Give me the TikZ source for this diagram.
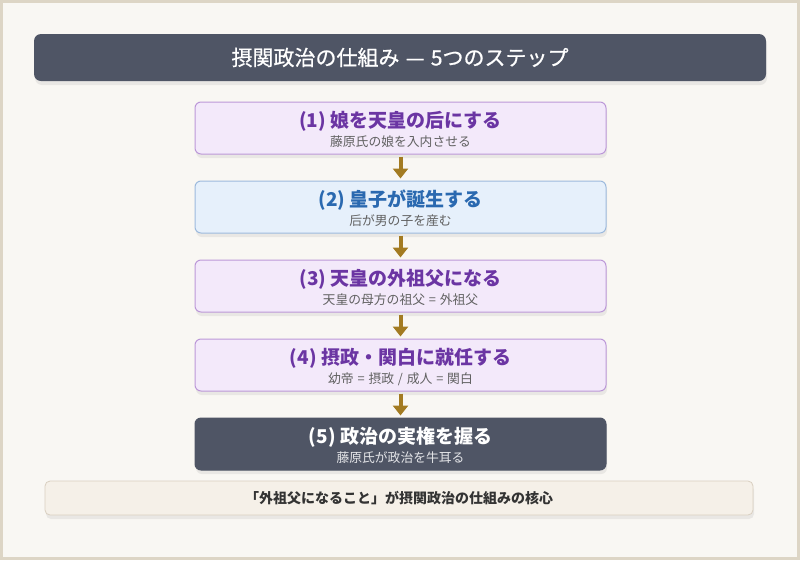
\documentclass[tikz,border=0pt]{standalone}
\usepackage{fontspec}
\setmainfont{Noto Sans CJK JP}
\newfontfamily\medfont[BoldFont={Noto Sans CJK JP},BoldFeatures={FakeBold=0.7}]{Noto Sans CJK JP}
\usepackage{tikz}
\usetikzlibrary{positioning,shadows,arrows.meta}

\definecolor{slate}{HTML}{4F5565}
\definecolor{paper}{HTML}{F9F7F3}
\definecolor{frame}{HTML}{DDD5C5}
\definecolor{lilac}{HTML}{F3E9FA}
\definecolor{lilacline}{HTML}{BC98D8}
\definecolor{lilactext}{HTML}{6B35A3}
\definecolor{skyfill}{HTML}{E6F0FB}
\definecolor{skyline}{HTML}{9DBADD}
\definecolor{skytext}{HTML}{2A69B0}
\definecolor{gold}{HTML}{A37B22}
\definecolor{cream}{HTML}{F5F0E8}
\definecolor{creamline}{HTML}{D9CFC0}
\definecolor{subgray}{HTML}{616161}

\newcommand{\eqsep}{\hspace{0.3em}=\hspace{0.3em}}

\tikzset{
	softshadow/.style={drop shadow={opacity=0.13,shadow xshift=1pt,shadow yshift=-4pt}},
	stepbox/.style={rounded corners=6pt,line width=1pt,minimum width=411pt,minimum height=52pt,softshadow},
	purplebox/.style={stepbox,fill=lilac,draw=lilacline},
	bluebox/.style={stepbox,fill=skyfill,draw=skyline},
	darkbox/.style={stepbox,fill=slate,draw=slate},
	headtext/.style={font=\bfseries\fontsize{19}{22}\selectfont},
	subtext/.style={font=\fontsize{12.8}{15}\selectfont,text=subgray},
	flow/.style={draw=gold,line width=4pt,-{Triangle[width=15pt,length=10pt]},shorten <=2pt,shorten >=2pt}
}

\begin{document}
\begin{tikzpicture}[x=1pt,y=-1pt]
					\useasboundingbox (0,0) rectangle (800,560);
					\fill[frame] (0,0) rectangle (800,560);
					\fill[paper] (3,3) rectangle (797,557);
					% Title bar
					\node[rounded corners=7pt,fill=slate,minimum width=732pt,minimum height=47pt,softshadow] (head) at (400,57.5) {};
					\node[text=white,font=\medfont\bfseries\fontsize{21}{24}\selectfont] (headlabel) at (head) {摂関政治の仕組み\hspace{0.3em}—\hspace{0.3em}5つのステップ};
					% Steps
					\node[purplebox] (s1) at (400.5,128) {};
					\node[bluebox,below=26pt of s1] (s2) {};
					\node[purplebox,below=26pt of s2] (s3) {};
					\node[purplebox,below=26pt of s3] (s4) {};
					\node[darkbox,below=26pt of s4] (s5) {};
					\node[headtext,text=lilactext] (t1) at ([yshift=7pt]s1.center) {(1) 娘を天皇の后にする};
					\node[subtext] (u1) at ([yshift=-14pt]s1.center) {藤原氏の娘を入内させる};
					\node[headtext,text=skytext] (t2) at ([yshift=7pt]s2.center) {(2) 皇子が誕生する};
					\node[subtext] (u2) at ([yshift=-14pt]s2.center) {后が男の子を産む};
					\node[headtext,text=lilactext] (t3) at ([yshift=7pt]s3.center) {(3) 天皇の外祖父になる};
					\node[subtext] (u3) at ([yshift=-14pt]s3.center) {天皇の母方の祖父\eqsep 外祖父};
					\node[headtext,text=lilactext] (t4) at ([yshift=7pt]s4.center) {(4) 摂政・関白に就任する};
					\node[subtext] (u4) at ([yshift=-14pt]s4.center) {幼帝\eqsep 摂政\hspace{0.3em}/\hspace{0.3em}成人\eqsep 関白};
					\node[headtext,text=white] (t5) at ([yshift=7pt]s5.center) {(5) 政治の実権を握る};
					\node[subtext,text=white!85!slate] (u5) at ([yshift=-14pt]s5.center) {藤原氏が政治を牛耳る};
					\foreach \a/\b in {s1/s2,s2/s3,s3/s4,s4/s5}
					\draw[flow] (\a) -- (\b);
					% Summary
					\node[rounded corners=5pt,fill=cream,draw=creamline,line width=0.8pt,minimum width=708pt,minimum height=34pt,softshadow] (core) at (399,498) {};
					\node[text=black!80,font=\bfseries\fontsize{14}{17}\selectfont] (corelabel) at (core) {「外祖父になること」が摂関政治の仕組みの核心};
				\end{tikzpicture}
\end{document}
